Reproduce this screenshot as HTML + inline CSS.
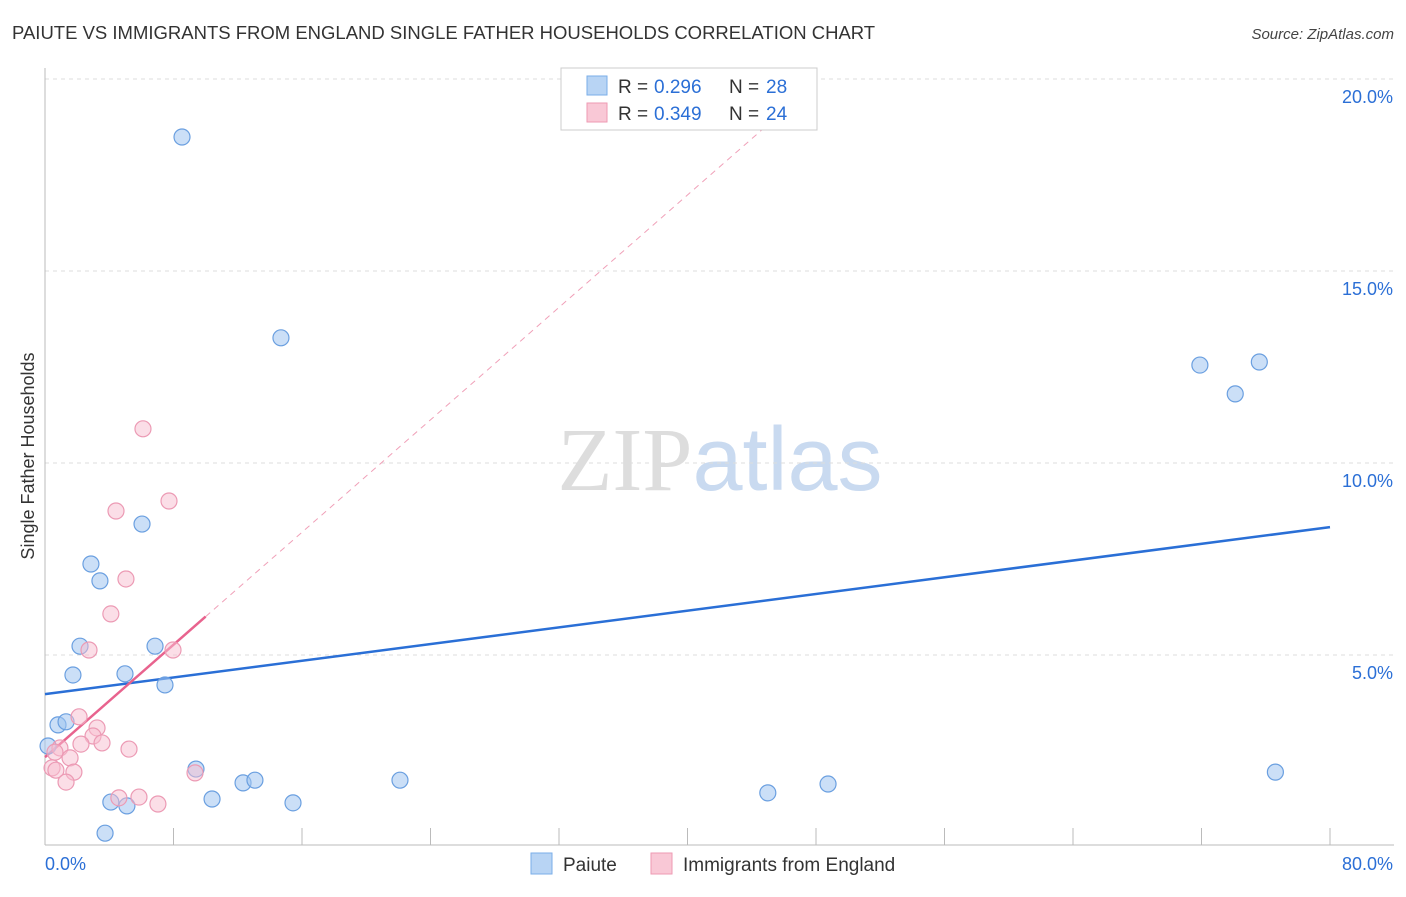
<!DOCTYPE html>
<html><head><meta charset="utf-8">
<style>
body{margin:0;background:#fff;font-family:"Liberation Sans",sans-serif;}
svg text{font-family:"Liberation Sans",sans-serif;}
</style></head>
<body>
<svg id="chart" width="1406" height="892" xmlns="http://www.w3.org/2000/svg">
<text x="12" y="39" font-size="18.5" fill="#333">PAIUTE VS IMMIGRANTS FROM ENGLAND SINGLE FATHER HOUSEHOLDS CORRELATION CHART</text>
<text x="1394" y="39" font-size="15" fill="#444" font-style="italic" text-anchor="end">Source: ZipAtlas.com</text>
<text x="720" y="490" font-size="90" text-anchor="middle"><tspan fill="#ddd" font-family="Liberation Serif">ZIP</tspan><tspan fill="#c9daf0">atlas</tspan></text>
<g id="grid"></g>
<g id="axes"></g>
<g id="lines"></g>
<g id="pts"></g>
<text transform="translate(34,456) rotate(-90)" font-size="18" fill="#333" text-anchor="middle">Single Father Households</text>
<g>
<rect x="561" y="68" width="256" height="62" fill="#fff" stroke="#ccc"/>
<rect x="587" y="76" width="20" height="19" fill="#b8d4f4" stroke="#7aaee8"/>
<text x="618" y="93" font-size="19" fill="#333">R =</text><text x="654" y="93" font-size="19" fill="#2b6fd6">0.296</text>
<text x="729" y="93" font-size="19" fill="#333">N =</text><text x="766" y="93" font-size="19" fill="#2b6fd6">28</text>
<rect x="587" y="103" width="20" height="19" fill="#f9c8d6" stroke="#ee9ab3"/>
<text x="618" y="120" font-size="19" fill="#333">R =</text><text x="654" y="120" font-size="19" fill="#2b6fd6">0.349</text>
<text x="729" y="120" font-size="19" fill="#333">N =</text><text x="766" y="120" font-size="19" fill="#2b6fd6">24</text>
</g>
<g>
<rect x="531" y="853" width="21" height="21" fill="#b8d4f4" stroke="#7aaee8"/>
<text x="563" y="871" font-size="19" fill="#333">Paiute</text>
<rect x="651" y="853" width="21" height="21" fill="#f9c8d6" stroke="#ee9ab3"/>
<text x="683" y="871" font-size="19" fill="#333">Immigrants from England</text>
</g>
</svg>
<script>
const xTicks=[0,80];
const yTicks=[5,10,15,20];
const blueX=[8.53,14.69,6.04,2.86,3.42,2.18,1.74,4.98,6.85,7.47,0.81,1.31,0.19,9.4,10.4,12.33,13.07,15.44,22.1,4.1,5.1,3.74,45.0,48.75,71.9,74.1,75.6,76.6];
const blueY=[18.49,13.26,8.41,7.37,6.93,5.23,4.48,4.51,5.23,4.22,3.18,3.26,2.63,2.03,1.25,1.67,1.74,1.15,1.74,1.17,1.07,0.36,1.41,1.64,12.55,11.8,12.63,1.95];
const pinkX=[6.1,7.72,4.42,5.04,4.1,2.74,7.97,2.12,3.24,2.99,3.55,2.24,0.93,0.62,5.23,1.56,0.44,0.68,1.8,1.31,9.34,4.6,5.85,7.03];
const pinkY=[10.89,9.01,8.75,6.98,6.07,5.13,5.13,3.39,3.10,2.89,2.71,2.68,2.58,2.47,2.55,2.32,2.06,2.0,1.95,1.69,1.93,1.28,1.30,1.12];
const blueTrend=[3.98,8.33];
const pinkTrend=[2.34,0.366];
const NS="http://www.w3.org/2000/svg";
const X=v=>45+v/80*1285, Y=v=>847-v*38.4;
function mk(p,t,a){const e=document.createElementNS(NS,t);for(const k in a)e.setAttribute(k,a[k]);document.getElementById(p).appendChild(e);return e;}
yTicks.forEach(t=>{
 const l=mk('grid','line',{x1:45,x2:1394,y1:Y(t),y2:Y(t),stroke:'#ddd','stroke-dasharray':'4,4'});
 
 
 const tx=mk('axes','text',{x:1393,y:Y(t)+24,'font-size':18,fill:'#2b6fd6','text-anchor':'end'});
 tx.textContent=t.toFixed(1)+'%';
 
 
});
mk('axes','line',{x1:45,x2:45,y1:68,y2:845,stroke:'#bbb'});
mk('axes','line',{x1:45,x2:1394,y1:845,y2:845,stroke:'#bbb'});
for(let i=0;i<=10;i++){const tk=mk('axes','line',{x1:X(i*8),x2:X(i*8),y1:828,y2:845,stroke:'#bbb'});}
xTicks.forEach((t,i)=>{const tx=mk('axes','text',{x:i?1393:45,y:870,'font-size':18,fill:'#2b6fd6','text-anchor':i?'end':'start'});tx.textContent=t.toFixed(1)+'%';
 
 });
const bl=mk('lines','line',{x1:X(0),y1:Y(blueTrend[0]),x2:X(80),y2:Y(blueTrend[1]),stroke:'#2a6fd6','stroke-width':2.5});


const xEnd=(19.5-pinkTrend[0])/pinkTrend[1];
const pd=mk('lines','line',{x1:X(10),y1:Y(pinkTrend[0]+10*pinkTrend[1]),x2:X(xEnd),y2:Y(19.5),stroke:'#f0a0b8','stroke-width':1,'stroke-dasharray':'6,5'});


const ps=mk('lines','line',{x1:X(0),y1:Y(pinkTrend[0]),x2:X(10),y2:Y(pinkTrend[0]+10*pinkTrend[1]),stroke:'#e8638e','stroke-width':2.5});


blueX.forEach((x,i)=>{const c=mk('pts','circle',{cx:X(x),cy:Y(blueY[i]),r:8,fill:'rgba(160,196,240,0.55)',stroke:'#6a9fe0','stroke-width':1.2});
 
 });
pinkX.forEach((x,i)=>{const c=mk('pts','circle',{cx:X(x),cy:Y(pinkY[i]),r:8,fill:'rgba(248,190,208,0.5)',stroke:'#ec9ab4','stroke-width':1.2});
 
 });
</script>
</body></html>
